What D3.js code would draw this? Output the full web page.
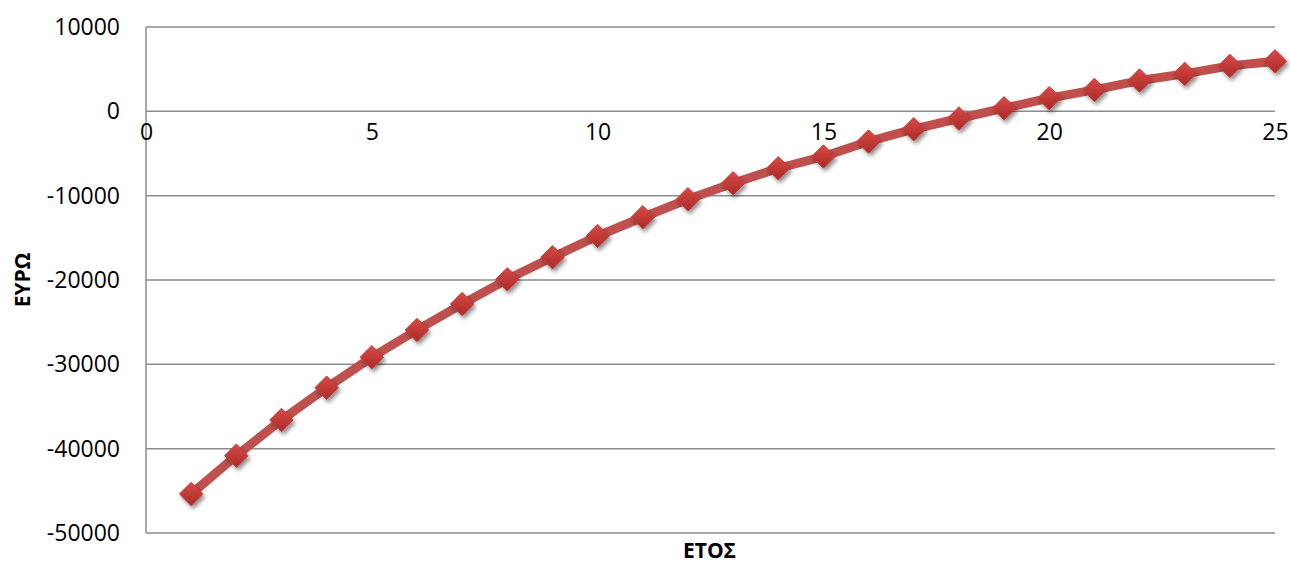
<!DOCTYPE html>
<html>
<head>
<meta charset="utf-8">
<script src="https://cdn.jsdelivr.net/npm/d3@7"></script>
<style>
  html, body { margin: 0; padding: 0; background: #fff; }
  svg { display: block; font-family: "Open Sans", "Liberation Sans", sans-serif; }
</style>
</head>
<body>
<svg id="chart" width="1290" height="565"></svg>
<script>
// Year index (ΕΤΟΣ) and cumulative amount in euros (ΕΥΡΩ)
const years = [1, 2, 3, 4, 5, 6, 7, 8, 9, 10, 11, 12, 13, 14, 15, 16, 17, 18, 19, 20, 21, 22, 23, 24, 25];
const euros = [-45370, -40830, -36600, -32770, -29160, -25930, -22850, -19920, -17310, -14780,
               -12560, -10430, -8530, -6750, -5360, -3580, -2120, -850, 370, 1560,
               2540, 3650, 4440, 5390, 5930];
const xTicks = [0, 5, 10, 15, 20, 25];
const yTicks = [10000, 0, -10000, -20000, -30000, -40000, -50000];
const xTitle = "ΕΤΟΣ";
const yTitle = "ΕΥΡΩ";

const svg = d3.select("#chart");
const plot = { left: 146, right: 1275, top: 27, bottom: 533 };

const x = d3.scaleLinear().domain([0, 25]).range([plot.left, plot.right]);
const y = d3.scaleLinear().domain([-50000, 10000]).range([plot.bottom, plot.top]);

// plain hyphen-minus for negative numbers
const plain = d => String(d);

const defs = svg.append("defs");
const grad = defs.append("linearGradient")
  .attr("id", "markerFill").attr("x1", "0").attr("y1", "0").attr("x2", "0").attr("y2", "1");
grad.append("stop").attr("offset", "0%").attr("stop-color", "#d94a47");
grad.append("stop").attr("offset", "100%").attr("stop-color", "#a92a27");

const shadow = defs.append("filter").attr("id", "markerShadow")
  .attr("x", "-50%").attr("y", "-50%").attr("width", "200%").attr("height", "200%");
shadow.append("feGaussianBlur").attr("in", "SourceAlpha").attr("stdDeviation", 2.2).attr("result", "b");
shadow.append("feOffset").attr("in", "b").attr("dx", 2).attr("dy", 3).attr("result", "o");
shadow.append("feComponentTransfer").attr("in", "o").attr("result", "s")
  .append("feFuncA").attr("type", "linear").attr("slope", 0.45);
const merge = shadow.append("feMerge");
merge.append("feMergeNode").attr("in", "s");
merge.append("feMergeNode").attr("in", "SourceGraphic");

// Horizontal gridlines
svg.append("g").selectAll("line").data(yTicks).join("line")
  .attr("x1", plot.left).attr("x2", plot.right)
  .attr("y1", d => y(d)).attr("y2", d => y(d))
  .attr("stroke", "#8c8c8c").attr("stroke-width", 1.5);

// Vertical axis line
svg.append("line")
  .attr("x1", plot.left).attr("x2", plot.left)
  .attr("y1", plot.top).attr("y2", plot.bottom)
  .attr("stroke", "#8c8c8c").attr("stroke-width", 1.5);

// Y tick labels
const yAxis = d3.axisLeft(y).tickValues(yTicks).tickSize(0).tickPadding(26).tickFormat(plain);
const gy = svg.append("g").attr("transform", `translate(${plot.left},0)`).call(yAxis);
gy.select(".domain").remove();
gy.selectAll("text").attr("font-size", 23).attr("fill", "#000")
  .attr("font-family", '"Open Sans", sans-serif');

// X tick labels sit just below the zero line
const xAxis = d3.axisBottom(x).tickValues(xTicks).tickSize(0).tickPadding(12).tickFormat(plain);
const gx = svg.append("g").attr("transform", `translate(0,${y(0)})`).call(xAxis);
gx.select(".domain").remove();
gx.selectAll("text").attr("font-size", 23).attr("fill", "#000")
  .attr("font-family", '"Open Sans", sans-serif');

// Series line
const line = d3.line().x((d, i) => x(years[i])).y(d => y(d));
svg.append("path").datum(euros)
  .attr("d", line)
  .attr("fill", "none")
  .attr("stroke", "#c0504d")
  .attr("stroke-width", 9)
  .attr("stroke-linejoin", "round");

// Diamond markers
const sym = d3.symbol().type(d3.symbolDiamond2).size(350);
svg.append("g").selectAll("path").data(euros).join("path")
  .attr("transform", (d, i) => `translate(${x(years[i])},${y(d)})`)
  .attr("d", sym)
  .attr("fill", "url(#markerFill)")
  .attr("stroke", "#c3403d")
  .attr("stroke-width", 1)
  .attr("filter", "url(#markerShadow)");

// Axis titles
svg.append("text")
  .attr("x", (plot.left + plot.right) / 2 - 1).attr("y", 558)
  .attr("text-anchor", "middle")
  .attr("font-size", 21).attr("font-weight", "bold")
  .text(xTitle);

svg.append("text")
  .attr("transform", `translate(30,${(plot.top + plot.bottom) / 2}) rotate(-90)`)
  .attr("text-anchor", "middle")
  .attr("font-size", 21).attr("font-weight", "bold")
  .text(yTitle);
</script>
</body>
</html>
